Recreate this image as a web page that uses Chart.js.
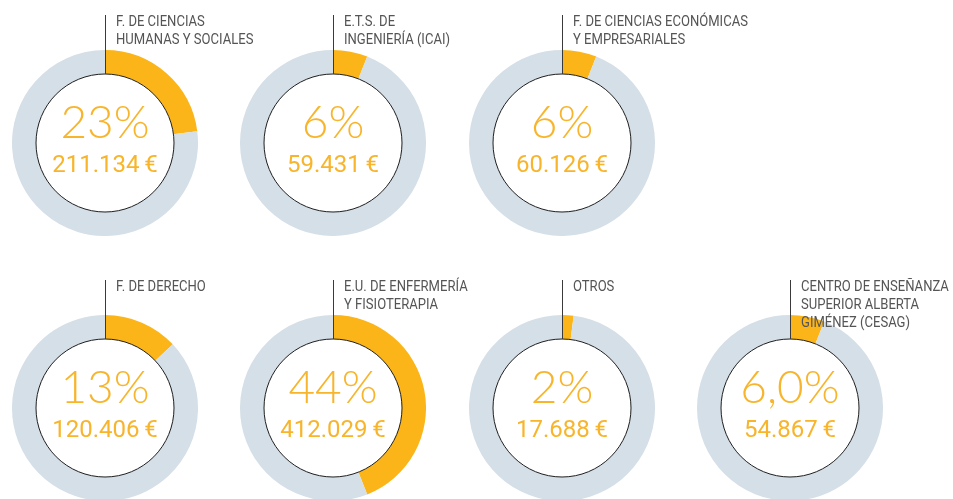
<!DOCTYPE html>
<html>
<head>
<meta charset="utf-8">
<script src="https://cdn.jsdelivr.net/npm/chart.js@4"></script>
<style>
  html, body { margin: 0; padding: 0; background: #fff; width: 953px; height: 499px; overflow: hidden; }
  .cell { position: absolute; width: 186px; height: 221px; }
  .cell canvas { position: absolute; left: 0; top: 0; }
  .lbl { position: absolute; left: 104px; top: -3px; font-family: Roboto, sans-serif; font-weight: 400;
         font-size: 15px; line-height: 18px; color: #555; white-space: nowrap;
         transform: scaleX(0.87); transform-origin: 0 0; }
  .pct { position: absolute; left: 0; width: 186px; text-align: center; top: 78px; font-family: Lato, Roboto, sans-serif;
         font-weight: 300; font-size: 46px; line-height: 56px; color: #f8b42a; }
  .amt { position: absolute; left: 0; width: 186px; text-align: center; top: 134px; font-family: Roboto, sans-serif;
         font-weight: 400; font-size: 24px; line-height: 30px; color: #f8b42a; }
</style>
</head>
<body>
<script>
// datos
const faculties = [
  ['F. DE CIENCIAS', 'HUMANAS Y SOCIALES'],
  ['E.T.S. DE', 'INGENIERÍA (ICAI)'],
  ['F. DE CIENCIAS ECONÓMICAS', 'Y EMPRESARIALES'],
  ['F. DE DERECHO'],
  ['E.U. DE ENFERMERÍA', 'Y FISIOTERAPIA'],
  ['OTROS'],
  ['CENTRO DE ENSEÑANZA', 'SUPERIOR ALBERTA', 'GIMÉNEZ (CESAG)']
];
const shares = [23, 6, 6, 13, 44, 2, 6];
const shareLabels = ['23%', '6%', '6%', '13%', '44%', '2%', '6,0%'];
const amounts = [211134, 59431, 60126, 120406, 412029, 17688, 54867];

// centros de cada anillo
const centers = [[105, 143], [333, 143], [562, 143], [105, 408], [333, 408], [562, 408], [790, 408]];

const fmt = n => String(n).replace(/\B(?=(\d{3})+(?!\d))/g, '.') + '\u2009€';

const ringDeco = {
  id: 'ringDeco',
  afterDatasetsDraw(chart) {
    const arc = chart.getDatasetMeta(0).data[0];
    const ctx = chart.ctx;
    ctx.save();
    ctx.beginPath();
    ctx.arc(arc.x, arc.y, arc.innerRadius, 0, Math.PI * 2);
    ctx.strokeStyle = '#1e1e1e';
    ctx.lineWidth = 1;
    ctx.stroke();
    ctx.beginPath();
    ctx.moveTo(Math.round(arc.x) + 0.5, 0);
    ctx.lineTo(Math.round(arc.x) + 0.5, arc.y - arc.innerRadius);
    ctx.strokeStyle = '#3a3a3a';
    ctx.stroke();
    ctx.restore();
  }
};

shares.forEach((v, i) => {
  const [cx, cy] = centers[i];
  const cell = document.createElement('div');
  cell.className = 'cell';
  cell.style.left = (cx - 93) + 'px';
  cell.style.top = (cy - 128) + 'px';
  const cv = document.createElement('canvas');
  cv.width = 186; cv.height = 221;
  cell.appendChild(cv);

  const lbl = document.createElement('div');
  lbl.className = 'lbl';
  lbl.innerHTML = faculties[i].join('<br>');
  cell.appendChild(lbl);

  const pct = document.createElement('div');
  pct.className = 'pct';
  pct.textContent = shareLabels[i];
  cell.appendChild(pct);

  const amt = document.createElement('div');
  amt.className = 'amt';
  amt.textContent = fmt(amounts[i]);
  cell.appendChild(amt);

  document.body.appendChild(cell);

  new Chart(cv, {
    type: 'doughnut',
    data: {
      labels: [faculties[i].join(' '), 'Resto'],
      datasets: [{
        data: [v, 100 - v],
        backgroundColor: ['#fbb519', '#d5dfe7'],
        borderWidth: 0
      }]
    },
    options: {
      responsive: false,
      animation: false,
      cutout: 69,
      events: [],
      layout: { padding: { top: 35 } },
      plugins: { legend: { display: false }, tooltip: { enabled: false } }
    },
    plugins: [ringDeco]
  });
});
</script>
</body>
</html>
